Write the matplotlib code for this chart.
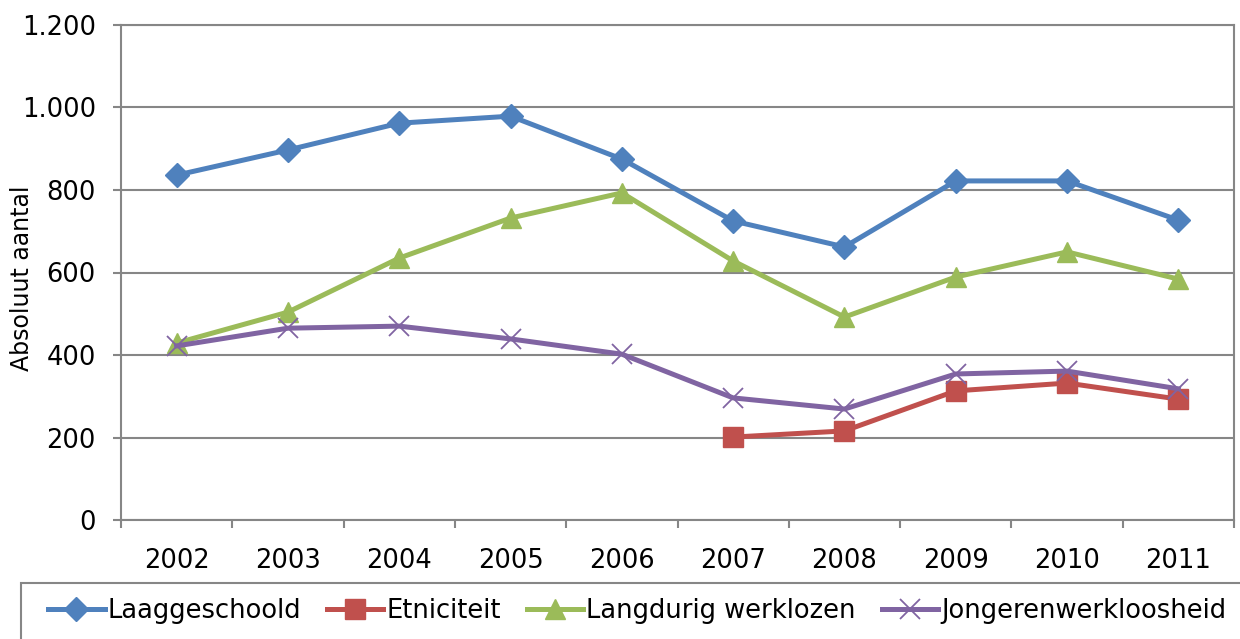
import matplotlib
matplotlib.use("Agg")
import matplotlib.pyplot as plt
from matplotlib.patches import Rectangle
import numpy as np

years = ["2002", "2003", "2004", "2005", "2006", "2007", "2008", "2009", "2010", "2011"]
laaggeschoold = [836, 897, 962, 979, 875, 725, 662, 822, 822, 727]
etniciteit = [None, None, None, None, None, 201, 216, 313, 332, 293]
langdurig = [429, 504, 635, 732, 793, 628, 492, 589, 650, 584]
jongeren = [422, 465, 470, 439, 402, 296, 269, 354, 361, 318]
yticks = [0, 200, 400, 600, 800, 1000, 1200]
ytick_labels = ["0", "200", "400", "600", "800", "1.000", "1.200"]

plt.rcParams['font.family'] = ['DejaVu Sans']
W, H = 1240, 639
fig = plt.figure(figsize=(W / 100, H / 100), dpi=100)
ax = fig.add_axes([121 / W, 1 - 520 / H, (1234 - 121) / W, (520 - 25) / H])

x = np.arange(len(years))
def arr(v):
    return np.array([np.nan if a is None else a for a in v], dtype=float)

grid_c = "#868686"
fs = 18.5
ax.plot(x, arr(laaggeschoold), color="#4F81BD", lw=3.6, marker="D", ms=12,
        label="Laaggeschoold", zorder=3)
ax.plot(x, arr(etniciteit), color="#C0504D", lw=3.6, marker="s", ms=14,
        label="Etniciteit", zorder=3)
ax.plot(x, arr(langdurig), color="#9BBB59", lw=3.6, marker="^", ms=15,
        label="Langdurig werklozen", zorder=3)
ax.plot(x, arr(jongeren), color="#8064A2", lw=3.6, marker="x", ms=14, mew=1.3,
        label="Jongerenwerkloosheid", zorder=4)

ax.set_xlim(-0.5, len(years) - 0.5)
ax.set_ylim(0, 1200)
ax.set_yticks(yticks)
ax.set_yticklabels(ytick_labels)
ax.set_xticks(x)
ax.set_xticklabels(years)
ax.set_xticks(np.arange(-0.5, len(years), 1.0), minor=True)
ax.tick_params(axis='x', which='major', length=0, pad=20, labelsize=fs)
ax.tick_params(axis='x', which='minor', length=6, width=1.5, color=grid_c, direction='out')
ax.tick_params(axis='y', length=6, width=1.5, color=grid_c, direction='out', pad=12, labelsize=fs)
ax.yaxis.grid(True, color=grid_c, lw=1.5)
ax.set_axisbelow(True)
for s in ax.spines.values():
    s.set_color(grid_c)
    s.set_linewidth(1.5)

fig.text(22 / W, 1 - 278 / H, "Absoluut aantal", rotation=90, fontsize=17,
         ha='center', va='center')

# legend frame extending beyond the figure edges
fig.patches.append(Rectangle((21 / W, -0.05), 1.0, 1 - 583 / H + 0.05,
                             transform=fig.transFigure, fill=False,
                             edgecolor=grid_c, lw=1.5))

leg = fig.legend(loc='upper left', bbox_to_anchor=(48 / W, 1 - 598 / H),
                 ncol=4, fontsize=fs, frameon=False,
                 handlelength=2.2, handletextpad=0.12, columnspacing=1.0,
                 borderpad=0, borderaxespad=0)

fig.savefig("out.png", dpi=100)
